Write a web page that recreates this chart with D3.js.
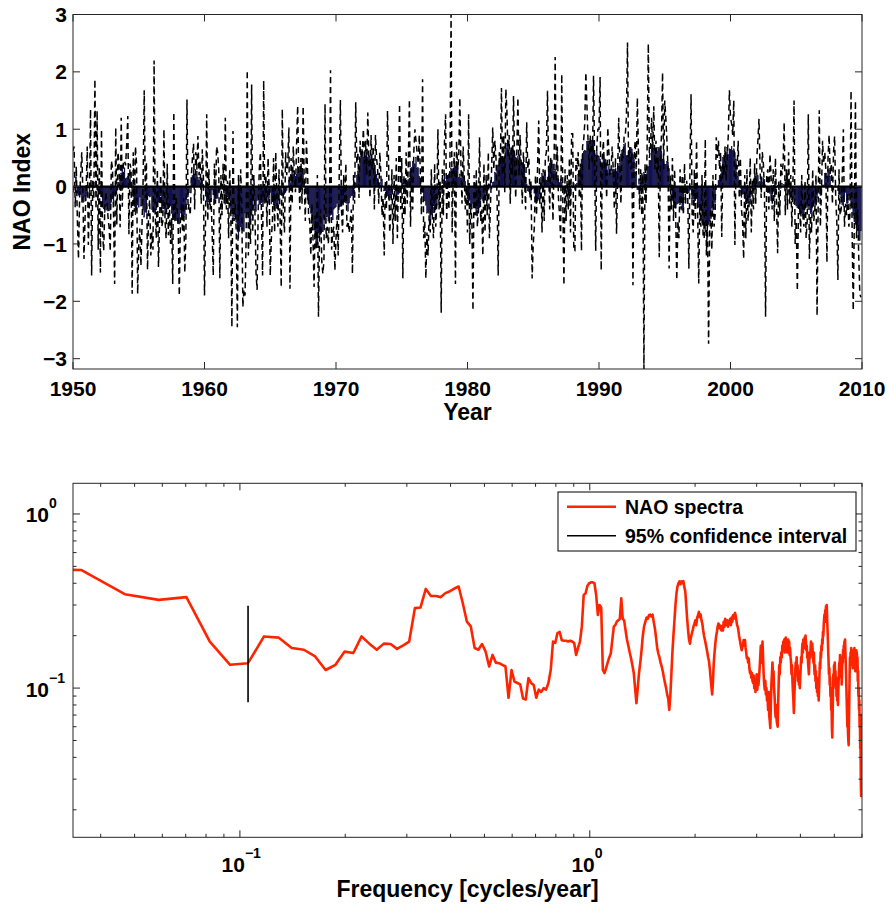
<!DOCTYPE html>
<html>
<head>
<meta charset="utf-8">
<script src="https://cdn.jsdelivr.net/npm/d3@7"></script>
<style>
  body { margin: 0; background: #fff; }
  text { font-family: "Liberation Sans", Arial, Helvetica, sans-serif; font-weight: bold; fill: #000; }
</style>
</head>
<body>
<svg id="chart" width="890" height="904"></svg>
<script>
// ---- data: monthly NAO index, Jan 1950 .. Dec 2009 ----
var startYear = 1950;
var naoMonthly = [
  0.62, 0.70, -0.36, 0.35, -0.59, -1.26, -0.20, 0.22, 0.60, -0.08, -1.26, -0.55,   // 1950
  -0.08, 0.70, -1.02, -0.22, 1.35, -1.55, 0.10, -0.22, 1.87, -0.39, 1.32, -1.10,   // 1951
  0.35, -1.50, 1.00, -0.83, -1.12, -0.40, -0.09, -0.28, -0.54, -0.73, -1.13, 0.45,  // 1952
  0.33, -0.49, -1.70, 1.03, -0.66, 0.60, 0.40, -0.71, 1.20, -0.35, 0.45, 0.45,      // 1953
  0.37, 0.74, 1.23, -0.83, 0.40, 0.30, -1.87, 0.60, -0.44, 0.70, 0.40, -1.87,       // 1954
  -1.02, -0.73, -1.38, -0.66, 0.12, 1.68, -0.20, 0.43, -1.45, -0.41, -0.23, -1.20,  // 1955
  -0.80, -1.10, 2.20, -0.50, -0.90, 0.30, -1.40, -0.60, 0.20, -0.70, -0.60, 1.00,   // 1956
  -0.60, -0.90, 0.40, -0.85, -0.30, -1.00, -0.55, -1.70, 1.30, -0.60, -0.20, -0.40, // 1957
  -0.70, -1.90, -0.60, -0.30, -0.80, -0.20, -1.50, -0.90, 1.52, -0.40, -0.30, -0.50,// 1958
  0.20, 0.50, 0.75, -0.40, 0.60, 0.30, 0.88, 0.20, 0.45, -0.30, 0.65, 0.15,         // 1959
  -1.90, -0.50, 1.26, -0.60, 0.30, -0.40, -0.20, -0.80, -1.55, 0.40, -0.30, 0.70,   // 1960
  0.60, 0.30, -1.60, 0.20, -0.50, 0.40, -0.30, 1.20, -0.40, 0.10, -0.90, 0.30,      // 1961
  -0.40, -2.45, 0.97, -0.60, -0.30, -0.80, -2.45, 0.20, -0.50, 0.30, -0.30, -2.10,  // 1962
  -1.80, -1.90, -0.90, 2.03, -1.20, -0.60, -1.00, 1.78, -0.80, 0.20, -0.40, -1.50,  // 1963
  -1.80, -0.40, 0.30, 0.60, -0.50, -1.55, 1.85, -0.30, 0.20, -0.70, 0.50, 0.00,     // 1964
  -1.55, -0.90, -0.60, 0.50, -0.80, 0.60, -0.20, -0.70, 0.30, -0.60, -1.75, 1.35,   // 1965
  -0.50, -0.80, 0.60, 0.20, 0.40, 1.03, -1.78, 0.50, -0.30, 0.70, 0.20, -0.10,      // 1966
  0.70, 1.41, 0.20, -0.40, 0.50, -0.30, 1.40, 0.10, -0.60, 0.80, 0.30, -0.50,       // 1967
  -0.60, -1.20, -0.30, -0.90, -1.75, -0.50, -1.10, 0.20, -2.27, -0.80, -0.40, -1.30,// 1968
  -1.52, -1.30, 1.44, -0.90, -0.70, -1.00, -0.60, 2.03, -1.10, -0.80, -0.70, -1.46, // 1969
  -0.90, -0.50, -1.20, 0.30, 1.51, -0.40, -0.80, 0.20, -0.30, 0.40, -0.70, -0.60,   // 1970
  -0.80, -0.60, -0.40, -1.52, 0.20, -0.30, 1.47, 0.40, 0.60, -0.20, 0.80, 0.50,     // 1971
  0.60, 1.00, 0.40, 0.80, 0.20, 1.29, 0.50, -0.20, 0.90, 0.30, 0.70, -0.40,         // 1972
  0.90, 0.50, 0.30, -0.30, 0.60, 0.20, -0.50, -0.20, -1.20, 0.10, -0.40, 1.32,      // 1973
  0.40, -0.80, -0.50, 0.30, -1.00, 0.20, -0.60, 0.50, -0.90, 0.10, 1.44, -0.40,     // 1974
  0.50, -1.60, 0.20, -0.50, 0.60, -0.30, 0.40, 1.52, -0.70, 0.30, -0.40, 0.60,      // 1975
  1.00, 0.80, 0.60, 0.40, 0.90, 0.20, -0.50, 1.87, -0.90, -0.60, -1.60, -0.80,      // 1976
  -1.20, -0.50, -0.80, 0.30, -0.60, -0.90, 0.40, -0.70, -0.30, 1.00, -0.40, 0.10,   // 1977
  -2.20, 0.30, -0.50, 0.80, 1.26, -0.60, 0.20, -0.40, 0.50, 3.00, -0.80, 0.20,      // 1978
  0.60, -1.70, 0.80, 0.30, 0.50, 1.55, 0.40, -0.30, 0.70, 0.20, -0.40, 0.00,        // 1979
  -0.80, 1.26, -1.00, -0.30, -0.60, -2.16, 0.20, -0.50, 0.30, -0.70, -0.40, 0.86,   // 1980
  -0.60, -0.40, -1.20, 0.40, -0.80, 0.20, -0.50, 0.60, -0.90, -0.30, 0.30, 1.03,    // 1981
  0.30, 0.80, 0.50, -0.20, -1.55, 0.60, 0.40, 1.72, 0.20, 0.90, -0.10, 1.70,        // 1982
  1.30, 0.50, 0.90, -0.30, 0.70, 0.20, 1.58, 0.40, -0.20, 0.60, 1.55, 0.20,         // 1983
  0.90, 0.40, -0.30, 0.60, 0.20, -0.40, 1.12, 0.30, 0.50, -0.20, 0.10, -1.60,       // 1984
  -1.00, -0.70, 0.20, -0.50, 0.40, 1.15, -0.30, 0.10, -0.80, 0.30, -0.60, 0.50,     // 1985
  0.60, 1.67, 0.30, -0.40, 0.50, 0.20, -0.60, 0.40, 2.26, 0.10, 0.70, -0.20,        // 1986
  -0.50, -0.90, 1.96, -0.30, -1.72, 0.30, -0.60, 0.20, -0.40, 0.50, -0.80, 0.92,    // 1987
  0.92, -1.12, -1.12, 0.50, 0.30, 0.60, -0.20, 0.40, -1.12, 0.70, 0.80, 1.10,       // 1988
  1.99, 1.40, 0.80, 0.30, 0.90, 0.60, 0.40, 1.93, 0.50, -1.12, 0.70, 1.00,          // 1989
  1.00, 1.91, -1.46, 0.50, 0.80, 0.30, 0.40, -0.20, 1.03, 0.60, 0.20, 0.30,         // 1990
  0.70, 0.30, -0.40, 0.50, -0.82, 0.20, 1.20, 0.40, -0.30, 0.60, 0.50, 0.90,        // 1991
  0.90, 1.20, 2.51, 0.40, 0.70, 0.30, 0.60, -1.72, 0.50, 0.80, 0.20, 1.55,          // 1992
  0.60, -0.40, 0.30, -0.50, 0.20, -3.18, 0.40, -0.30, 0.80, 2.49, 0.50, 0.70,       // 1993
  1.20, 0.60, 1.40, 0.30, 0.80, 0.20, 0.50, -1.23, 0.40, 0.90, 1.99, 0.30,          // 1994
  1.50, 1.20, 0.80, 0.30, -1.43, 0.20, -0.40, 0.50, -0.60, 0.30, -0.50, -1.63,      // 1995
  -0.60, -0.90, 0.30, -0.40, 0.20, -0.50, 0.40, -0.30, 0.10, -0.20, -1.43, 0.30,    // 1996
  1.61, -0.50, -0.80, 0.30, -0.60, 0.80, -0.40, -1.69, -0.30, -0.70, 0.20, -0.90,   // 1997
  -0.90, 0.83, -1.20, -0.60, -2.74, -0.80, -0.40, -1.10, 0.20, -0.70, -0.50, 0.86,  // 1998
  0.50, 0.80, 0.30, 0.60, -0.88, 0.40, 0.20, 0.70, 0.10, 0.50, 0.90, 1.68,          // 1999
  1.20, 1.10, 0.90, 1.50, -1.02, 0.40, 0.30, 0.80, -0.20, 0.50, -0.40, -0.60,       // 2000
  -1.26, 0.20, -0.90, 0.30, -0.60, -0.30, 0.50, -0.80, 0.10, -0.40, 0.40, -0.30,    // 2001
  0.50, 0.80, 1.18, 0.30, -0.20, 0.60, 0.40, -0.10, -2.27, 0.20, 0.30, -0.40,       // 2002
  0.57, 0.20, -0.40, 0.30, -0.60, 0.50, -0.30, -1.16, 0.10, -0.50, 0.40, 0.20,      // 2003
  0.40, 1.12, -0.50, 0.30, -0.40, 0.60, -0.30, 0.20, -0.70, 0.10, 1.50, -1.00,      // 2004
  -0.60, -1.82, -0.40, -0.30, -0.80, 0.20, -0.50, -0.70, 0.10, -0.90, -0.60, 1.26,  // 2005
  -1.26, -0.50, -0.80, 0.30, -0.60, -0.40, 0.20, -2.25, -0.30, 1.33, -0.70, -0.10,  // 2006
  0.80, 0.40, 0.60, 0.30, -1.32, 0.50, 0.90, 0.20, 0.40, -0.30, 0.60, 0.88,         // 2007
  -0.20, -0.60, -1.63, 0.30, -0.50, -0.40, 0.20, 1.00, -0.70, -0.30, -0.50, -0.10,  // 2008
  -0.70, -0.50, 1.67, -0.80, -2.16, -0.60, 1.50, -0.90, -0.40, -1.20, -1.87, -1.93  // 2009
];
var smoothWindow = 13;  // months, centred running mean shown as bars
var yearTicks = [1950, 1960, 1970, 1980, 1990, 2000, 2010];
var naoTicks = [-3, -2, -1, 0, 1, 2, 3];

// ---- data: NAO power spectrum, FFT bins k = 2..512 (nfft 1024, 12 samples/yr) ----
var nfft = 1024, samplesPerYear = 12, firstBin = 2;
var naoSpectrum = [
  0.480, 0.477, 0.346, 0.321, 0.333, 0.185, 0.136, 0.139, 0.198, 0.195,
  0.170, 0.166, 0.152, 0.127, 0.136, 0.162, 0.159, 0.198, 0.180, 0.166,
  0.180, 0.179, 0.168, 0.176, 0.185, 0.288, 0.290, 0.371, 0.338, 0.338,
  0.333, 0.351, 0.360, 0.373, 0.383, 0.307, 0.241, 0.226, 0.170, 0.166,
  0.179, 0.162, 0.133, 0.155, 0.140, 0.139, 0.136, 0.133, 0.088, 0.127,
  0.109, 0.107, 0.105, 0.087, 0.086, 0.114, 0.107, 0.104, 0.088, 0.098,
  0.095, 0.100, 0.098, 0.107, 0.127, 0.185, 0.182, 0.207, 0.210, 0.188,
  0.187, 0.187, 0.185, 0.187, 0.185, 0.182, 0.155, 0.170, 0.185, 0.226,
  0.343, 0.350, 0.386, 0.400, 0.405, 0.405, 0.400, 0.343, 0.263, 0.300,
  0.290, 0.127, 0.122, 0.130, 0.140, 0.150, 0.158, 0.190, 0.226, 0.230,
  0.241, 0.245, 0.250, 0.328, 0.250, 0.245, 0.215, 0.190, 0.175, 0.160,
  0.148, 0.135, 0.122, 0.100, 0.082, 0.100, 0.122, 0.140, 0.165, 0.200,
  0.226, 0.240, 0.254, 0.250, 0.262, 0.264, 0.258, 0.264, 0.240, 0.220,
  0.195, 0.170, 0.158, 0.150, 0.140, 0.133, 0.125, 0.115, 0.107, 0.100,
  0.092, 0.087, 0.075, 0.090, 0.120, 0.160, 0.200, 0.245, 0.300, 0.350,
  0.383, 0.400, 0.410, 0.395, 0.410, 0.400, 0.412, 0.380, 0.360, 0.300,
  0.250, 0.215, 0.190, 0.180, 0.195, 0.205, 0.215, 0.226, 0.235, 0.245,
  0.230, 0.254, 0.262, 0.274, 0.255, 0.265, 0.245, 0.235, 0.215, 0.200,
  0.190, 0.180, 0.170, 0.160, 0.150, 0.143, 0.130, 0.115, 0.102, 0.092,
  0.110, 0.139, 0.160, 0.180, 0.198, 0.210, 0.225, 0.235, 0.230, 0.220,
  0.228, 0.214, 0.225, 0.214, 0.240, 0.225, 0.250, 0.241, 0.230, 0.245,
  0.225, 0.240, 0.235, 0.250, 0.230, 0.254, 0.240, 0.262, 0.250, 0.265,
  0.270, 0.260, 0.245, 0.230, 0.225, 0.214, 0.200, 0.190, 0.180, 0.172,
  0.165, 0.172, 0.180, 0.189, 0.175, 0.189, 0.170, 0.160, 0.148, 0.150,
  0.140, 0.148, 0.130, 0.122, 0.125, 0.115, 0.122, 0.110, 0.107, 0.118,
  0.100, 0.112, 0.095, 0.107, 0.120, 0.098, 0.110, 0.104, 0.115, 0.130,
  0.150, 0.175, 0.160, 0.140, 0.185, 0.150, 0.120, 0.105, 0.098, 0.110,
  0.092, 0.100, 0.085, 0.090, 0.075, 0.095, 0.070, 0.065, 0.059, 0.080,
  0.105, 0.120, 0.140, 0.115, 0.125, 0.100, 0.090, 0.075, 0.068, 0.080,
  0.065, 0.062, 0.060, 0.085, 0.110, 0.135, 0.120, 0.150, 0.140, 0.160,
  0.150, 0.175, 0.165, 0.185, 0.170, 0.190, 0.160, 0.180, 0.195, 0.170,
  0.185, 0.160, 0.175, 0.190, 0.165, 0.185, 0.155, 0.170, 0.150, 0.140,
  0.120, 0.135, 0.110, 0.095, 0.085, 0.072, 0.090, 0.105, 0.125, 0.140,
  0.130, 0.150, 0.120, 0.135, 0.110, 0.125, 0.105, 0.120, 0.100, 0.115,
  0.130, 0.150, 0.140, 0.165, 0.180, 0.160, 0.190, 0.175, 0.185, 0.195,
  0.170, 0.200, 0.185, 0.165, 0.175, 0.150, 0.160, 0.140, 0.130, 0.120,
  0.145, 0.160, 0.150, 0.170, 0.185, 0.175, 0.160, 0.180, 0.165, 0.150,
  0.140, 0.160, 0.130, 0.120, 0.135, 0.110, 0.125, 0.100, 0.115, 0.095,
  0.110, 0.090, 0.105, 0.085, 0.100, 0.120, 0.140, 0.130, 0.160, 0.150,
  0.175, 0.165, 0.190, 0.180, 0.210, 0.200, 0.230, 0.250, 0.264, 0.240,
  0.280, 0.260, 0.295, 0.270, 0.300, 0.250, 0.220, 0.190, 0.160, 0.140,
  0.120, 0.130, 0.105, 0.115, 0.090, 0.100, 0.075, 0.085, 0.060, 0.052,
  0.070, 0.095, 0.120, 0.105, 0.135, 0.115, 0.140, 0.110, 0.125, 0.100,
  0.115, 0.090, 0.105, 0.085, 0.100, 0.080, 0.095, 0.110, 0.125, 0.140,
  0.130, 0.155, 0.120, 0.145, 0.115, 0.130, 0.105, 0.125, 0.150, 0.140,
  0.165, 0.150, 0.175, 0.160, 0.185, 0.170, 0.190, 0.160, 0.140, 0.120,
  0.100, 0.085, 0.070, 0.060, 0.075, 0.055, 0.050, 0.047, 0.065, 0.090,
  0.120, 0.150, 0.135, 0.160, 0.145, 0.170, 0.150, 0.165, 0.140, 0.155,
  0.130, 0.160, 0.145, 0.165, 0.150, 0.170, 0.140, 0.155, 0.125, 0.150,
  0.125, 0.165, 0.140, 0.160, 0.130, 0.150, 0.110, 0.125, 0.090, 0.100,
  0.075, 0.085, 0.060, 0.070, 0.045, 0.050, 0.030, 0.024, 0.070, 0.030,
  0.024
];
// confidence bar drawn at one frequency
var ciFreq = 0.1055, ciLow = 0.083, ciHigh = 0.297;
var legendLabels = ["NAO spectra", "95% confidence interval"];

var svg = d3.select("#chart");
var boxTop = { left: 73, right: 862, top: 14.5, bottom: 369 };
var boxBot = { left: 73, right: 862, top: 483.3, bottom: 837.3 };
var axisColor = "#262626";

// ================= top panel =================
var xYear = d3.scaleLinear().domain([1950, 2010]).range([boxTop.left, boxTop.right]);
var yNao = d3.scaleLinear().domain(d3.extent(naoMonthly)).range([boxTop.bottom, boxTop.top]);

var half = Math.floor(smoothWindow / 2);
var naoSmooth = naoMonthly.map(function(v, i) {
  return d3.mean(naoMonthly.slice(Math.max(0, i - half), Math.min(naoMonthly.length, i + half + 1)));
});

svg.append("clipPath").attr("id", "clipTop").append("rect")
  .attr("x", boxTop.left).attr("y", boxTop.top)
  .attr("width", boxTop.right - boxTop.left).attr("height", boxTop.bottom - boxTop.top);

var gTop = svg.append("g");
var plotTop = gTop.append("g").attr("clip-path", "url(#clipTop)");

var monthW = xYear(startYear + 1 / 12) - xYear(startYear);
plotTop.selectAll("rect.bar")
  .data(naoSmooth)
  .enter().append("rect")
  .attr("class", "bar")
  .attr("x", function(d, i) { return xYear(startYear + i / 12) - monthW * 0.4; })
  .attr("width", monthW * 0.8)
  .attr("y", function(d) { return Math.min(yNao(d), yNao(0)); })
  .attr("height", function(d) { return Math.abs(yNao(d) - yNao(0)); })
  .attr("fill", "#00008f")
  .attr("stroke", "#000")
  .attr("stroke-width", 0.4);

var naoLine = d3.line()
  .x(function(d, i) { return xYear(startYear + i / 12); })
  .y(function(d) { return yNao(d); });

plotTop.append("path")
  .datum(naoMonthly)
  .attr("d", naoLine)
  .attr("fill", "none")
  .attr("stroke", "#000")
  .attr("stroke-width", 1.5)
  .attr("stroke-dasharray", "6,4");

plotTop.append("line")
  .attr("x1", boxTop.left).attr("x2", boxTop.right)
  .attr("y1", yNao(0)).attr("y2", yNao(0))
  .attr("stroke", "#000").attr("stroke-width", 2.2);

// box and inward ticks
gTop.append("rect")
  .attr("x", boxTop.left).attr("y", boxTop.top)
  .attr("width", boxTop.right - boxTop.left).attr("height", boxTop.bottom - boxTop.top)
  .attr("fill", "none").attr("stroke", axisColor).attr("stroke-width", 1);

yearTicks.forEach(function(t) {
  var x = xYear(t);
  gTop.append("line").attr("x1", x).attr("x2", x).attr("y1", boxTop.bottom).attr("y2", boxTop.bottom - 7).attr("stroke", axisColor);
  gTop.append("line").attr("x1", x).attr("x2", x).attr("y1", boxTop.top).attr("y2", boxTop.top + 7).attr("stroke", axisColor);
  gTop.append("text").attr("x", x).attr("y", 396).attr("text-anchor", "middle")
    .style("font-size", "21px").text(t);
});
naoTicks.forEach(function(t) {
  var y = yNao(t);
  gTop.append("line").attr("x1", boxTop.left).attr("x2", boxTop.left + 7).attr("y1", y).attr("y2", y).attr("stroke", axisColor);
  gTop.append("line").attr("x1", boxTop.right).attr("x2", boxTop.right - 7).attr("y1", y).attr("y2", y).attr("stroke", axisColor);
  gTop.append("text").attr("x", 67).attr("y", y).attr("dy", "0.36em").attr("text-anchor", "end")
    .style("font-size", "21px").text(t < 0 ? "\u2212" + Math.abs(t) : t);
});

gTop.append("text")
  .attr("transform", "translate(22," + (boxTop.top + boxTop.bottom) / 2 + ") rotate(-90)")
  .attr("text-anchor", "middle").attr("dy", "0.36em")
  .style("font-size", "23px").text("NAO Index");
gTop.append("text")
  .attr("x", (boxTop.left + boxTop.right) / 2).attr("y", 420)
  .attr("text-anchor", "middle")
  .style("font-size", "23px").text("Year");

// ================= bottom panel =================
var xFreq = d3.scaleLog().domain([1 / 30, 6]).range([boxBot.left, boxBot.right]);
var yPow = d3.scaleLog().domain([0.0139, 1.5]).range([boxBot.bottom, boxBot.top]);

var spec = naoSpectrum.map(function(p, i) {
  return { f: (i + firstBin) * samplesPerYear / nfft, p: p };
});

svg.append("clipPath").attr("id", "clipBot").append("rect")
  .attr("x", boxBot.left).attr("y", boxBot.top)
  .attr("width", boxBot.right - boxBot.left).attr("height", boxBot.bottom - boxBot.top);

var gBot = svg.append("g");
var plotBot = gBot.append("g").attr("clip-path", "url(#clipBot)");

plotBot.append("path")
  .datum(spec)
  .attr("d", d3.line().x(function(d) { return xFreq(d.f); }).y(function(d) { return yPow(d.p); }))
  .attr("fill", "none")
  .attr("stroke", "#ff2400")
  .attr("stroke-width", 2.6)
  .attr("stroke-linejoin", "round");

plotBot.append("line")
  .attr("x1", xFreq(ciFreq)).attr("x2", xFreq(ciFreq))
  .attr("y1", yPow(ciLow)).attr("y2", yPow(ciHigh))
  .attr("stroke", "#000").attr("stroke-width", 1.6);

gBot.append("rect")
  .attr("x", boxBot.left).attr("y", boxBot.top)
  .attr("width", boxBot.right - boxBot.left).attr("height", boxBot.bottom - boxBot.top)
  .attr("fill", "none").attr("stroke", axisColor).attr("stroke-width", 1);

function isDecade(v) {
  var l = Math.log10(v);
  return Math.abs(l - Math.round(l)) < 1e-6;
}
// "10" ends at xBase, exponent written after it as a superscript
function supLabel(g, xBase, yBase, exp) {
  g.append("text").attr("x", xBase).attr("y", yBase).attr("text-anchor", "end")
    .style("font-size", "21px").text("10");
  g.append("text").attr("x", xBase).attr("y", yBase - 14)
    .style("font-size", "14px")
    .text(exp < 0 ? "\u2212" + Math.abs(exp) : exp);
}

xFreq.ticks().forEach(function(v) {
  var x = xFreq(v), len = isDecade(v) ? 7 : 3.5;
  gBot.append("line").attr("x1", x).attr("x2", x).attr("y1", boxBot.bottom).attr("y2", boxBot.bottom - len).attr("stroke", axisColor);
  gBot.append("line").attr("x1", x).attr("x2", x).attr("y1", boxBot.top).attr("y2", boxBot.top + len).attr("stroke", axisColor);
  if (isDecade(v)) supLabel(gBot, x + 5, 872, Math.round(Math.log10(v)));
});
yPow.ticks().forEach(function(v) {
  var y = yPow(v), len = isDecade(v) ? 7 : 3.5;
  gBot.append("line").attr("x1", boxBot.left).attr("x2", boxBot.left + len).attr("y1", y).attr("y2", y).attr("stroke", axisColor);
  gBot.append("line").attr("x1", boxBot.right).attr("x2", boxBot.right - len).attr("y1", y).attr("y2", y).attr("stroke", axisColor);
  if (isDecade(v)) supLabel(gBot, 49, y + 8.5, Math.round(Math.log10(v)));
});

gBot.append("text")
  .attr("x", (boxBot.left + boxBot.right) / 2).attr("y", 896.5)
  .attr("text-anchor", "middle")
  .style("font-size", "23px").text("Frequency [cycles/year]");

// legend
var leg = gBot.append("g");
leg.append("rect").attr("x", 558).attr("y", 492).attr("width", 298).attr("height", 59)
  .attr("fill", "#fff").attr("stroke", "#000").attr("stroke-width", 1);
var legColors = ["#ff2400", "#000"], legWidths = [2.6, 1.6];
legendLabels.forEach(function(lab, i) {
  var y = 506.7 + i * 29;
  leg.append("line").attr("x1", 567).attr("x2", 616).attr("y1", y).attr("y2", y)
    .attr("stroke", legColors[i]).attr("stroke-width", legWidths[i]);
  leg.append("text").attr("x", 625).attr("y", y + 7).style("font-size", "19.5px").text(lab);
});
</script>
</body>
</html>
